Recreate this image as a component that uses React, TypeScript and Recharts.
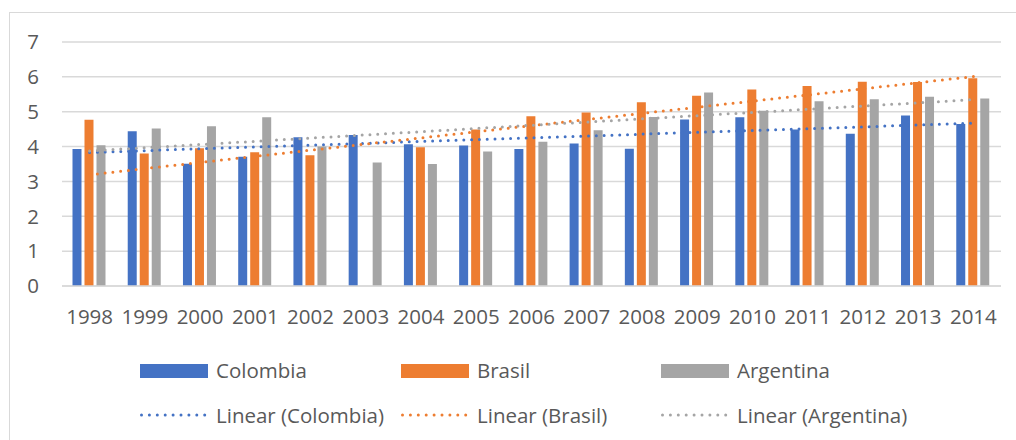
import React from 'react';
import { ComposedChart, Bar, Line, XAxis, YAxis, CartesianGrid } from 'recharts';

const years = ['1998', '1999', '2000', '2001', '2002', '2003', '2004', '2005', '2006',
  '2007', '2008', '2009', '2010', '2011', '2012', '2013', '2014'];
const colombia = [3.93, 4.44, 3.51, 3.71, 4.27, 4.33, 4.07, 4.03, 3.93, 4.09, 3.94, 4.78, 4.84, 4.49, 4.37, 4.89, 4.65];
const brasil = [4.77, 3.80, 3.95, 3.84, 3.75, 0, 3.98, 4.49, 4.87, 4.98, 5.27, 5.46, 5.64, 5.74, 5.86, 5.85, 5.96];
const argentina = [4.04, 4.52, 4.58, 4.84, 4.0, 3.54, 3.50, 3.86, 4.14, 4.47, 4.85, 5.55, 5.03, 5.30, 5.36, 5.43, 5.38];
const yTicks = [0, 1, 2, 3, 4, 5, 6, 7];

const series = [
  { key: 'colombia', name: 'Colombia', color: '#4472C4', values: colombia },
  { key: 'brasil', name: 'Brasil', color: '#ED7D31', values: brasil },
  { key: 'argentina', name: 'Argentina', color: '#A5A5A5', values: argentina },
];

// least-squares line over the category index, like a spreadsheet "Linear" trendline
const linearFit = (ys: number[]) => {
  const n = ys.length;
  const mx = (n - 1) / 2;
  const my = ys.reduce((s, v) => s + v, 0) / n;
  let sxy = 0;
  let sxx = 0;
  ys.forEach((v, i) => {
    sxy += (i - mx) * (v - my);
    sxx += (i - mx) * (i - mx);
  });
  const slope = sxy / sxx;
  return ys.map((_, i) => my + slope * (i - mx));
};

const trends = series.map((s) => linearFit(s.values));

const data = years.map((year, i) => {
  const row: Record<string, string | number> = { year };
  series.forEach((s, k) => {
    row[s.key] = s.values[i];
    row[s.key + 'Trend'] = trends[k][i];
  });
  return row;
});

const FONT = '"Open Sans", sans-serif';
const TEXT = '#595959';
const GRID = '#D9D9D9';
const FONT_SIZE = 20.5;

const legendCols = [140, 401, 661];

const Legend = () => (
  <>
    {series.map((s, i) => (
      <React.Fragment key={s.key}>
        <div style={{ position: 'absolute', left: legendCols[i], top: 364, width: 68, height: 14, background: s.color }} />
        <div style={{ position: 'absolute', left: legendCols[i] + 76, top: 356, fontSize: FONT_SIZE, lineHeight: '28px', color: TEXT }}>
          {s.name}
        </div>
        <svg style={{ position: 'absolute', left: legendCols[i], top: 410 }} width={70} height={10}>
          <line x1={1.5} y1={5} x2={65} y2={5} stroke={s.color} strokeWidth={3}
            strokeLinecap="round" strokeDasharray="0 7.9" />
        </svg>
        <div style={{ position: 'absolute', left: legendCols[i] + 76, top: 401, fontSize: FONT_SIZE, lineHeight: '28px', color: TEXT }}>
          Linear ({s.name})
        </div>
      </React.Fragment>
    ))}
  </>
);

export default function App() {
  return (
    <div style={{ position: 'fixed', left: 0, top: 0, width: 1016, height: 440, background: '#fff', fontFamily: FONT, overflow: 'hidden' }}>
      <div style={{ position: 'absolute', left: 9, top: 12, width: 1100, height: 500, border: `1px solid ${GRID}` }} />
      <ComposedChart width={1016} height={440} data={data}
        margin={{ top: 42, right: 15, left: 0, bottom: 124 }}
        barCategoryGap="19%" barGap={3}
        style={{ position: 'absolute', left: 0, top: 0 }}>
        <CartesianGrid vertical={false} stroke={GRID} strokeWidth={1.5} />
        <XAxis dataKey="year" height={30} axisLine={{ stroke: GRID, strokeWidth: 1.5 }} tickLine={false}
          tickSize={0} tickMargin={23} interval={0}
          tick={{ fontSize: FONT_SIZE, fill: TEXT, fontFamily: FONT }} />
        <YAxis width={62} domain={[0, 7]} ticks={yTicks} axisLine={false} tickLine={false}
          tickSize={0} tickMargin={23}
          tick={{ fontSize: FONT_SIZE, fill: TEXT, fontFamily: FONT }} />
        {series.map((s) => (
          <Bar key={s.key} dataKey={s.key} name={s.name} fill={s.color} isAnimationActive={false} />
        ))}
        {series.map((s) => (
          <Line key={s.key + 'Trend'} dataKey={s.key + 'Trend'} name={`Linear (${s.name})`}
            type="linear" stroke={s.color} strokeWidth={3} strokeLinecap="round"
            strokeDasharray="0 7.8" dot={false} activeDot={false} isAnimationActive={false} />
        ))}
      </ComposedChart>
      <Legend />
    </div>
  );
}
